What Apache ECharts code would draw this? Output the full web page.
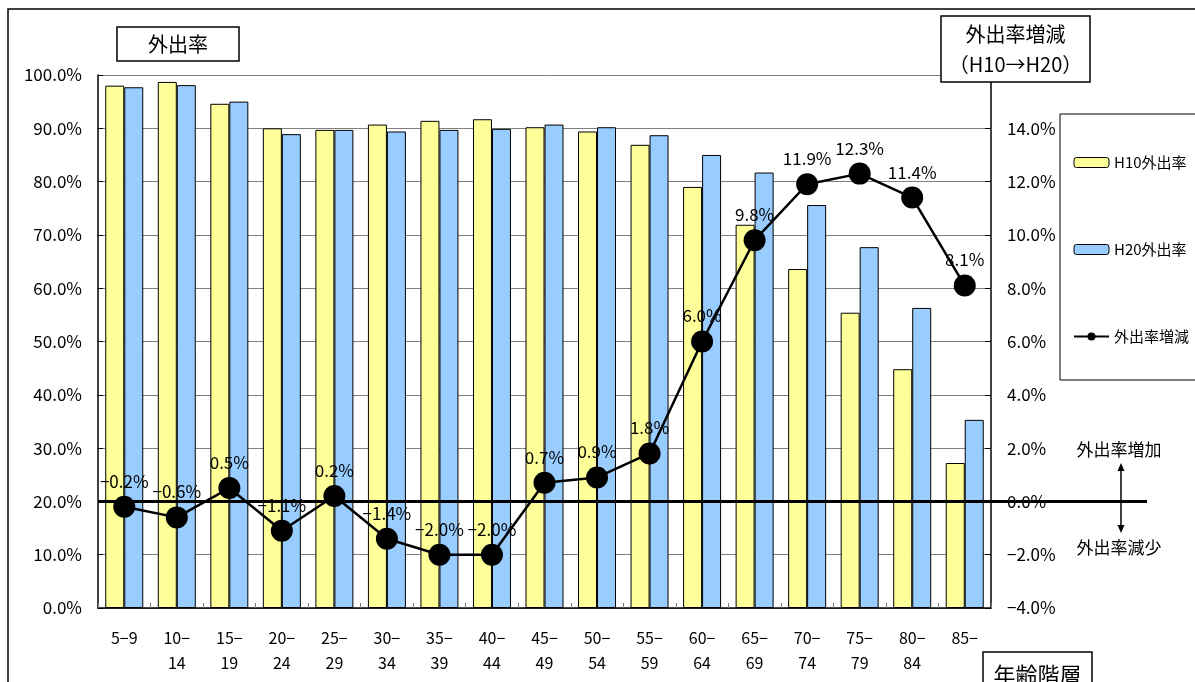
<!DOCTYPE html>
<html>
<head>
<meta charset="utf-8">
<script src="https://cdn.jsdelivr.net/npm/echarts@6/dist/echarts.min.js"></script>
<style>
  html, body { margin: 0; padding: 0; background: #fff; }
  #main { width: 1195px; height: 682px; }
</style>
</head>
<body>
<div id="main"></div>
<script>
// 年齢階層
var ageGroups = ['5−9', '10−\n14', '15−\n19', '20−\n24', '25−\n29', '30−\n34', '35−\n39', '40−\n44',
  '45−\n49', '50−\n54', '55−\n59', '60−\n64', '65−\n69', '70−\n74', '75−\n79', '80−\n84', '85−'];
// 外出率 (%)
var h10Rate = [98.0, 98.7, 94.6, 90.0, 89.7, 90.7, 91.4, 91.7, 90.2, 89.4, 86.9, 79.0, 71.9, 63.6, 55.4, 44.8, 27.2];
var h20Rate = [97.7, 98.1, 95.0, 88.9, 89.7, 89.4, 89.7, 89.9, 90.7, 90.2, 88.7, 85.0, 81.7, 75.6, 67.7, 56.3, 35.3];
// 外出率増減 H10→H20 (ポイント)
var rateDiff = [-0.2, -0.6, 0.5, -1.1, 0.2, -1.4, -2.0, -2.0, 0.7, 0.9, 1.8, 6.0, 9.8, 11.9, 12.3, 11.4, 8.1];

var FONT = '"Noto Sans CJK JP", "Noto Sans", sans-serif';

function pct(v) {
  return v.toFixed(1).replace('-', '−') + '%';
}

var chart = echarts.init(document.getElementById('main'));

var option = {
  animation: false,
  textStyle: {fontFamily: FONT, color: '#000'},
  grid: {left: 98, right: 204, top: 75, bottom: 74},
  legend: {
    orient: 'vertical',
    left: 1068,
    top: 150,
    itemGap: 72,
    itemWidth: 35,
    itemHeight: 10,
    textStyle: {fontSize: 15, color: '#000', fontFamily: FONT},
    data: [
      {name: 'H10外出率', itemStyle: {borderColor: '#000', borderWidth: 1}},
      {name: 'H20外出率', itemStyle: {borderColor: '#000', borderWidth: 1}},
      {name: '外出率増減'}
    ]
  },
  xAxis: {
    type: 'category',
    data: ageGroups,
    axisLine: {lineStyle: {color: '#000', width: 1.5}},
    axisTick: {show: true, inside: true, length: 5, interval: 0, lineStyle: {color: '#777'}},
    axisLabel: {fontSize: 16, color: '#000', margin: 17, lineHeight: 25, interval: 0, fontFamily: FONT}
  },
  yAxis: [
    {
      type: 'value',
      min: 0,
      max: 100,
      interval: 10,
      axisLine: {show: true, lineStyle: {color: '#000', width: 1.5}},
      axisTick: {show: true, inside: true, length: 5, lineStyle: {color: '#000'}},
      axisLabel: {fontSize: 17, color: '#000', margin: 16, formatter: function (v) { return v.toFixed(1) + '%'; }},
      splitLine: {lineStyle: {color: '#808080', width: 1}}
    },
    {
      type: 'value',
      min: -4,
      max: 16,
      interval: 2,
      axisLine: {show: true, lineStyle: {color: '#000', width: 1.5}},
      axisTick: {show: true, inside: true, length: 6, lineStyle: {color: '#000'}},
      axisLabel: {fontSize: 17, color: '#000', margin: 16, formatter: function (v) { return pct(v); }},
      splitLine: {show: false}
    }
  ],
  series: [
    {
      name: 'H10外出率',
      type: 'bar',
      data: h10Rate,
      barWidth: 19,
      barGap: '0%',
      itemStyle: {color: '#FFFF99', borderColor: '#000', borderWidth: 1}
    },
    {
      name: 'H20外出率',
      type: 'bar',
      data: h20Rate,
      barWidth: 19,
      barGap: '0%',
      itemStyle: {color: '#99CCFF', borderColor: '#000', borderWidth: 1}
    },
    {
      name: '外出率増減',
      type: 'line',
      yAxisIndex: 1,
      data: rateDiff,
      symbol: 'circle',
      symbolSize: 22,
      z: 5,
      lineStyle: {color: '#000', width: 2.5},
      itemStyle: {color: '#000'},
      label: {
        show: true,
        position: 'top',
        distance: 6,
        fontSize: 17,
        color: '#000',
        fontFamily: FONT,
        formatter: function (p) { return pct(p.value); }
      }
    }
  ]
};

chart.setOption(option);

// 0%ライン・注記・枠などの装飾
var zeroY = chart.convertToPixel({yAxisIndex: 1}, 0);
var gridLeft = 98;

function box(x, y, w, h, text, fs, lh) {
  return {
    type: 'group',
    children: [
      {type: 'rect', z: 100, shape: {x: x, y: y, width: w, height: h},
        style: {fill: '#fff', stroke: '#000', lineWidth: 1.5}},
      {type: 'text', z: 101, x: x + w / 2, y: y + h / 2,
        style: {text: text, fontSize: fs, fontFamily: FONT, fill: '#000',
          align: 'center', verticalAlign: 'middle', lineHeight: lh}}
    ]
  };
}

chart.setOption({
  graphic: [
    // 外枠
    {type: 'rect', z: 1, silent: true, shape: {x: 8, y: 9, width: 1250, height: 720},
      style: {fill: 'none', stroke: '#000', lineWidth: 1.5}},
    // 凡例枠
    {type: 'rect', z: 1, shape: {x: 1060, y: 114, width: 200, height: 266},
      style: {fill: 'none', stroke: '#000', lineWidth: 1}},
    // 0%ライン
    {type: 'line', z: 50, shape: {x1: gridLeft, y1: zeroY, x2: 1147, y2: zeroY},
      style: {stroke: '#000', lineWidth: 3}},
    // 増減矢印
    {type: 'line', z: 50, shape: {x1: 1121, y1: 468, x2: 1121, y2: 528},
      style: {stroke: '#000', lineWidth: 1.5}},
    {type: 'polygon', z: 50, shape: {points: [[1121, 463], [1117.5, 471], [1124.5, 471]]},
      style: {fill: '#000'}},
    {type: 'polygon', z: 50, shape: {points: [[1121, 533], [1117.5, 525], [1124.5, 525]]},
      style: {fill: '#000'}},
    {type: 'text', z: 50, x: 1119, y: 450,
      style: {text: '外出率増加', fontSize: 17, fontFamily: FONT, fill: '#000', align: 'center', verticalAlign: 'middle'}},
    {type: 'text', z: 50, x: 1119, y: 548,
      style: {text: '外出率減少', fontSize: 17, fontFamily: FONT, fill: '#000', align: 'center', verticalAlign: 'middle'}},
    // 見出し
    box(117, 27, 122, 34, '外出率', 20, 24),
    box(941, 16, 149, 66, '外出率増減\n（H10→H20）', 20, 30),
    box(983, 652, 109, 45, '年齢階層', 22, 26)
  ]
});
</script>
</body>
</html>
